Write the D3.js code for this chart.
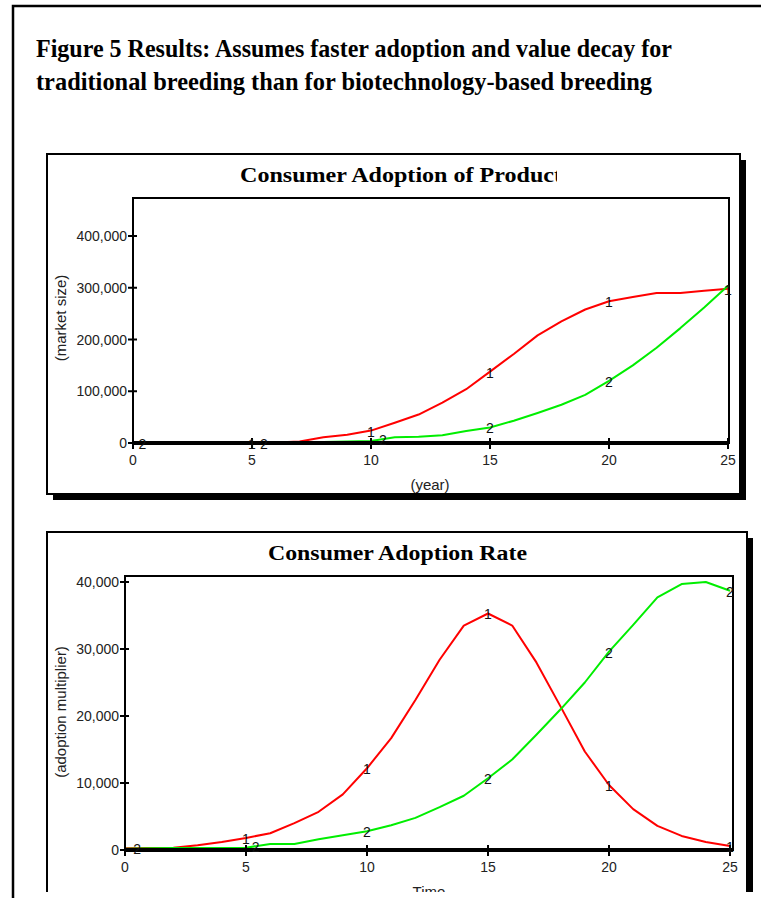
<!DOCTYPE html>
<html>
<head>
<meta charset="utf-8">
<script src="https://cdn.jsdelivr.net/npm/d3@7"></script>
<style>
  body { margin: 0; background: #fff; }
  svg { display: block; }
</style>
</head>
<body>
<script>
// ---- data ----
const years = d3.range(0, 26);

const titleLines = [
  "Figure 5 Results: Assumes faster adoption and value decay for",
  "traditional breeding than for biotechnology-based breeding",
];

// Consumer Adoption of Product (market size)
const marketSize1 = [0, 0, 0, 0, 0, 0, 1000, 3000, 11000, 16000, 24000, 39000, 55000, 78000, 104000,
  138000, 172000, 208000, 235000, 258000, 274000, 282000, 290000, 290000, 294000, 298000];
const marketSize2 = [0, 0, 0, 0, 0, 0, 0, 0, 2000, 3000, 4000, 11000, 12000, 15000, 23000,
  30000, 43000, 58000, 74000, 93000, 120000, 150000, 184000, 222000, 262000, 304000];
const marketTicks = [0, 100000, 200000, 300000, 400000];

// Consumer Adoption Rate (adoption multiplier)
const adoptRate1 = [250, 300, 350, 700, 1200, 1800, 2500, 4000, 5700, 8300, 12200, 16700, 22400, 28400, 33500,
  35300, 33500, 28000, 21400, 14700, 9700, 6100, 3600, 2100, 1200, 600];
const adoptRate2 = [200, 250, 300, 300, 300, 350, 900, 900, 1600, 2200, 2800, 3700, 4800, 6400, 8100,
  10700, 13500, 17200, 21000, 25000, 29600, 33600, 37700, 39700, 40000, 38700];
const rateTicks = [0, 10000, 20000, 30000, 40000];

const yearTicks = [0, 5, 10, 15, 20, 25];

// where the "1" / "2" series markers sit (years)
const marks1a = [5, 10, 15, 20, 25];
const marks1b = [0.4, 5.5, 10.5, 15, 20];
const marks2a = [5, 10, 15, 20, 25];
const marks2b = [0.5, 5.4, 10, 15, 20, 25];

const colors = ["#ff0000", "#00ee00"];

// ---- page ----
const W = 761, H = 898;
const svg = d3.select("body").append("svg")
  .attr("width", W).attr("height", H)
  .style("font-family", "'Liberation Sans', Arial, sans-serif");

// outer frame (left + top)
svg.append("path")
  .attr("d", "M13,898V6H761")
  .attr("fill", "none")
  .attr("stroke", "#000")
  .attr("stroke-width", 2.5);

svg.append("g")
  .selectAll("text")
  .data(titleLines)
  .join("text")
  .attr("x", 36)
  .attr("y", (d, i) => 57 + i * 33)
  .attr("textLength", (d, i) => (i == 0 ? 636 : 616))
  .attr("lengthAdjust", "spacingAndGlyphs")
  .style("font-family", "'Liberation Serif', 'Times New Roman', serif")
  .style("font-weight", "bold")
  .style("font-size", "25px")
  .text((d) => d);

function drawChart(root, o) {
  const g = root.append("g");
  if (o.clipBottom) {
    g.append("clipPath").attr("id", o.id + "_pg")
      .append("rect").attr("x", 0).attr("y", 0).attr("width", W).attr("height", o.clipBottom);
    g.attr("clip-path", `url(#${o.id}_pg)`);
  }

  // box with drop shadow
  g.append("rect")
    .attr("x", o.box.x + 6).attr("y", o.box.y + 6)
    .attr("width", o.box.w).attr("height", o.box.h)
    .attr("fill", "#000");
  g.append("rect")
    .attr("x", o.box.x).attr("y", o.box.y)
    .attr("width", o.box.w).attr("height", o.box.h)
    .attr("fill", "#fff").attr("stroke", "#000").attr("stroke-width", 2);

  // title (the first one is cut short in the original)
  const t = g.append("text")
    .attr("x", o.title.x).attr("y", o.title.y)
    .attr("textLength", o.title.len)
    .attr("lengthAdjust", "spacingAndGlyphs")
    .style("font-family", "'Liberation Serif', 'Times New Roman', serif")
    .style("font-weight", "bold")
    .style("font-size", "20px")
    .text(o.title.text);
  if (o.title.clip) {
    g.append("clipPath").attr("id", o.id + "_tc")
      .append("rect").attr("x", 0).attr("y", 0).attr("width", o.title.clip).attr("height", H);
    t.attr("clip-path", `url(#${o.id}_tc)`);
  }

  const x = d3.scaleLinear().domain([0, 25]).range([o.plot.x0, o.plot.x1]);
  const y = d3.scaleLinear().domain([o.yTicks[0], o.yTicks[o.yTicks.length - 1]]).range([o.plot.y0, o.plot.yTop]);

  // plot frame
  g.append("rect")
    .attr("x", o.plot.x0).attr("y", o.plot.frameTop)
    .attr("width", o.plot.frameRight - o.plot.x0)
    .attr("height", o.plot.y0 - o.plot.frameTop)
    .attr("fill", "none").attr("stroke", "#000").attr("stroke-width", 2);

  const line = d3.line().x((d, i) => x(years[i])).y((d) => y(d));
  o.series.forEach((s, k) => {
    g.append("path")
      .datum(s)
      .attr("d", line)
      .attr("fill", "none")
      .attr("stroke", colors[k])
      .attr("stroke-width", 2)
      .attr("stroke-linejoin", "round");
  });

  // thick zero axis
  g.append("line")
    .attr("x1", o.plot.x0).attr("x2", o.plot.frameRight)
    .attr("y1", o.plot.y0).attr("y2", o.plot.y0)
    .attr("stroke", "#000").attr("stroke-width", 4);

  // x ticks + labels
  const xt = g.append("g").selectAll("g").data(yearTicks).join("g")
    .attr("transform", (d) => `translate(${x(d)},${o.plot.y0})`);
  xt.append("line").attr("y1", -5).attr("y2", 6).attr("stroke", "#000").attr("stroke-width", 2);
  xt.append("text")
    .attr("y", 22)
    .attr("text-anchor", "middle")
    .style("font-size", "14px").attr("fill", "#222")
    .text((d) => d);

  // y ticks + labels
  const yt = g.append("g").selectAll("g").data(o.yTicks).join("g")
    .attr("transform", (d) => `translate(${o.plot.x0},${y(d)})`);
  yt.append("line").attr("x1", -5).attr("x2", 4).attr("stroke", "#000").attr("stroke-width", 2);
  yt.append("text")
    .attr("x", -6).attr("y", 5)
    .attr("text-anchor", "end")
    .style("font-size", "14px").attr("fill", "#222")
    .text((d) => d3.format(",")(d));

  // axis titles
  g.append("text")
    .attr("transform", `translate(${o.yLabel.x},${o.yLabel.y}) rotate(-90)`)
    .attr("text-anchor", "middle")
    .style("font-size", "15px").attr("fill", "#222")
    .text(o.yLabel.text);
  g.append("text")
    .attr("x", o.xLabel.x).attr("y", o.xLabel.y)
    .attr("text-anchor", "middle")
    .style("font-size", "15px").attr("fill", "#222")
    .text(o.xLabel.text);

  // series number markers
  o.marks.forEach((m, k) => {
    const interp = (tv) => {
      const i = Math.min(Math.floor(tv), 24);
      const f = tv - i;
      return o.series[k][i] * (1 - f) + o.series[k][i + 1] * f;
    };
    g.append("g").selectAll("text").data(m).join("text")
      .attr("x", (d) => x(d))
      .attr("y", (d) => y(interp(d)) + 6)
      .attr("text-anchor", "middle")
      .style("font-size", "14px").attr("fill", "#111")
      .text(k + 1);
  });
}

drawChart(svg, {
  id: "c1",
  box: { x: 47, y: 154, w: 693, h: 340 },
  title: { text: "Consumer Adoption of Product", x: 240, y: 182, len: 322, clip: 557 },
  plot: { x0: 133, x1: 728, y0: 443, yTop: 236, frameTop: 198, frameRight: 729 },
  yTicks: marketTicks,
  series: [marketSize1, marketSize2],
  marks: [marks1a, marks1b],
  yLabel: { text: "(market size)", x: 66, y: 318 },
  xLabel: { text: "(year)", x: 430, y: 490 },
});

drawChart(svg, {
  id: "c2",
  clipBottom: 892,
  box: { x: 47, y: 532, w: 700, h: 400 },
  title: { text: "Consumer Adoption Rate", x: 268, y: 560, len: 259 },
  plot: { x0: 125, x1: 730, y0: 850, yTop: 582, frameTop: 576, frameRight: 733 },
  yTicks: rateTicks,
  series: [adoptRate1, adoptRate2],
  marks: [marks2a, marks2b],
  yLabel: { text: "(adoption multiplier)", x: 66, y: 712 },
  xLabel: { text: "Time", x: 429, y: 897 },
});
</script>
</body>
</html>
